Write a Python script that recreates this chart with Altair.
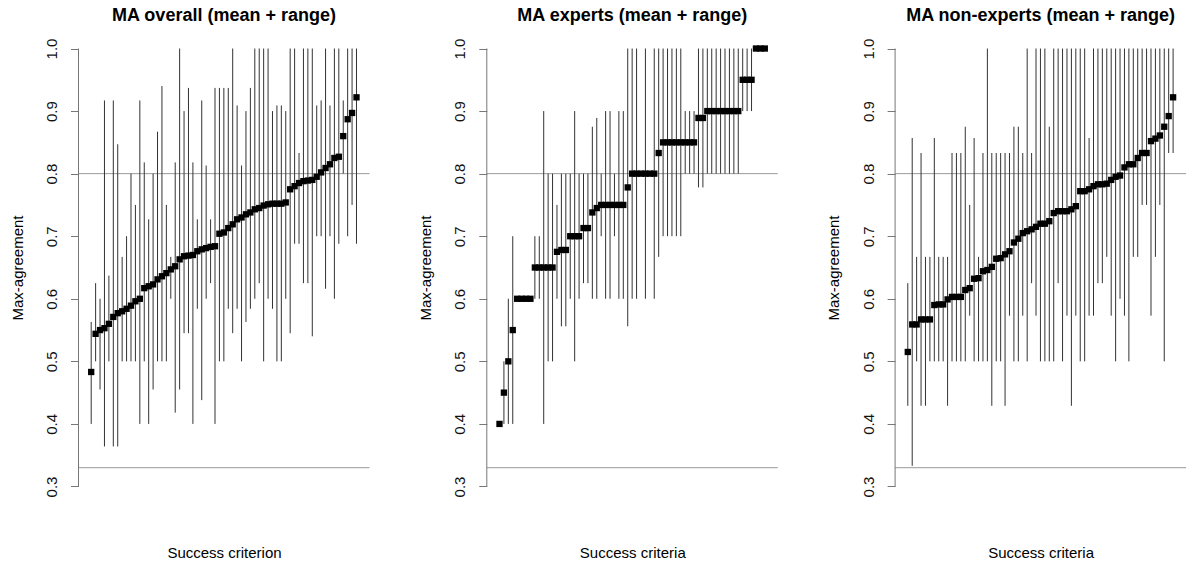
import altair as alt
import pandas as pd

FONT = "Liberation Sans"

tick_values = [0.3, 0.4, 0.5, 0.6, 0.7, 0.8, 0.9, 1.0]
ref_lines = [0.8, 0.33]
titles = ["MA overall (mean + range)", "MA experts (mean + range)", "MA non-experts (mean + range)"]
x_titles = ["Success criterion", "Success criteria", "Success criteria"]

overall_mean = [0.483, 0.544, 0.55, 0.553, 0.56, 0.571, 0.577, 0.58, 0.584, 0.589,
                0.596, 0.6, 0.617, 0.62, 0.623, 0.631, 0.636, 0.641, 0.647, 0.652,
                0.663, 0.668, 0.669, 0.67, 0.676, 0.679, 0.681, 0.683, 0.684, 0.704,
                0.706, 0.713, 0.719, 0.727, 0.73, 0.735, 0.738, 0.743, 0.745, 0.749,
                0.751, 0.752, 0.752, 0.752, 0.754, 0.775, 0.78, 0.785, 0.788, 0.789,
                0.79, 0.795, 0.802, 0.809, 0.815, 0.825, 0.827, 0.86, 0.887, 0.897, 0.922]
overall_min = [0.40, 0.50, 0.455, 0.364, 0.5, 0.364, 0.364, 0.5, 0.5, 0.5,
               0.5, 0.4, 0.5, 0.4, 0.455, 0.5, 0.5, 0.5, 0.6, 0.418,
               0.455, 0.545, 0.545, 0.4, 0.584, 0.438, 0.6, 0.625, 0.4, 0.5,
               0.5, 0.584, 0.545, 0.584, 0.5, 0.563, 0.584, 0.6, 0.625, 0.5,
               0.6, 0.584, 0.5, 0.5, 0.6, 0.545, 0.688, 0.688, 0.625, 0.625,
               0.54, 0.7, 0.7, 0.616, 0.7, 0.6, 0.688, 0.8, 0.7, 0.75, 0.688]
overall_max = [0.563, 0.625, 0.6, 0.917, 0.637, 0.917, 0.847, 0.667, 0.7, 0.8,
               0.75, 0.917, 0.818, 0.727, 0.8, 0.867, 0.94, 0.75, 0.667, 0.818,
               1.0, 0.9, 0.937, 0.818, 0.727, 0.917, 0.813, 0.727, 0.937, 0.937,
               0.937, 0.937, 1.0, 0.909, 0.813, 0.9, 0.937, 1.0, 1.0, 1.0,
               1.0, 0.9, 0.909, 0.909, 0.9, 1.0, 1.0, 0.833, 1.0, 1.0,
               1.0, 0.909, 0.917, 1.0, 0.909, 1.0, 1.0, 0.917, 1.0, 1.0, 1.0]

experts_mean = [0.40, 0.45, 0.50, 0.55, 0.6, 0.6, 0.6, 0.6, 0.65, 0.65,
                0.65, 0.65, 0.65, 0.675, 0.678, 0.678, 0.7, 0.7, 0.7, 0.713,
                0.713, 0.738, 0.745, 0.75, 0.75, 0.75, 0.75, 0.75, 0.75, 0.778,
                0.8, 0.8, 0.8, 0.8, 0.8, 0.8, 0.833, 0.85, 0.85, 0.85,
                0.85, 0.85, 0.85, 0.85, 0.85, 0.889, 0.889, 0.9, 0.9, 0.9,
                0.9, 0.9, 0.9, 0.9, 0.9, 0.95, 0.95, 0.95, 1.0, 1.0, 1.0]
experts_min = [0.4, 0.4, 0.4, 0.4, 0.6, 0.6, 0.6, 0.6, 0.6, 0.6,
               0.4, 0.5, 0.5, 0.6, 0.556, 0.556, 0.6, 0.5, 0.6, 0.625,
               0.625, 0.6, 0.6, 0.7, 0.6, 0.6, 0.7, 0.6, 0.6, 0.556,
               0.6, 0.6, 0.8, 0.6, 0.8, 0.6, 0.667, 0.7, 0.7, 0.7,
               0.7, 0.7, 0.8, 0.8, 0.8, 0.778, 0.778, 0.8, 0.8, 0.8,
               0.8, 0.8, 0.8, 0.8, 0.8, 0.9, 0.9, 0.9, 1.0, 1.0, 1.0]
experts_max = [0.4, 0.5, 0.6, 0.7, 0.6, 0.6, 0.6, 0.6, 0.7, 0.7,
               0.9, 0.8, 0.8, 0.75, 0.8, 0.8, 0.8, 0.9, 0.8, 0.8,
               0.8, 0.875, 0.889, 0.8, 0.9, 0.9, 0.8, 0.9, 0.9, 1.0,
               1.0, 1.0, 0.8, 1.0, 0.8, 1.0, 1.0, 1.0, 1.0, 1.0,
               1.0, 1.0, 0.9, 0.9, 0.9, 1.0, 1.0, 1.0, 1.0, 1.0,
               1.0, 1.0, 1.0, 1.0, 1.0, 1.0, 1.0, 1.0, 1.0, 1.0, 1.0]

nonexp_mean = [0.515, 0.559, 0.559, 0.567, 0.567, 0.567, 0.59, 0.591, 0.591, 0.599,
               0.603, 0.603, 0.603, 0.614, 0.617, 0.632, 0.633, 0.644, 0.646, 0.651,
               0.664, 0.665, 0.671, 0.676, 0.69, 0.696, 0.705, 0.708, 0.711, 0.715,
               0.72, 0.72, 0.724, 0.737, 0.74, 0.74, 0.74, 0.743, 0.748, 0.772,
               0.772, 0.775, 0.78, 0.783, 0.783, 0.784, 0.79, 0.795, 0.797, 0.81,
               0.815, 0.815, 0.825, 0.833, 0.833, 0.852, 0.856, 0.861, 0.875, 0.892, 0.922]
nonexp_min = [0.429, 0.333, 0.5, 0.429, 0.429, 0.5, 0.5, 0.5, 0.5, 0.429,
              0.5, 0.5, 0.5, 0.5, 0.573, 0.5, 0.5, 0.5, 0.5, 0.429,
              0.5, 0.5, 0.429, 0.573, 0.5, 0.5, 0.573, 0.5, 0.625, 0.573,
              0.5, 0.5, 0.5, 0.5, 0.625, 0.5, 0.573, 0.429, 0.573, 0.5,
              0.5, 0.573, 0.573, 0.625, 0.625, 0.667, 0.573, 0.5, 0.6, 0.573,
              0.5, 0.667, 0.667, 0.75, 0.75, 0.573, 0.667, 0.75, 0.5, 0.833, 0.833]
nonexp_max = [0.625, 0.857, 0.667, 0.833, 0.667, 0.667, 0.857, 0.667, 0.667, 0.667,
              0.833, 0.833, 0.833, 0.875, 0.75, 0.857, 0.667, 0.833, 1.0, 0.833,
              0.833, 0.833, 0.833, 0.833, 0.875, 0.875, 0.833, 1.0, 0.833, 1.0,
              1.0, 1.0, 0.875, 1.0, 1.0, 1.0, 1.0, 1.0, 1.0, 1.0,
              1.0, 0.857, 1.0, 1.0, 1.0, 1.0, 1.0, 1.0, 1.0, 1.0,
              1.0, 1.0, 1.0, 1.0, 1.0, 1.0, 1.0, 1.0, 1.0, 1.0, 1.0]

yscale = alt.Scale(domain=[0.272, 1.028], nice=False, zero=False)
xscale = alt.Scale(domain=[-1.87, 63.94], nice=False, zero=False)


def panel(title, xtitle, mean, lo, hi):
    n = len(mean)
    df = pd.DataFrame({"idx": list(range(1, n + 1)), "mean": mean, "lo": lo, "hi": hi})
    refs = pd.DataFrame({"v": ref_lines})
    axdf = pd.DataFrame({"a": [tick_values[0]], "b": [tick_values[-1]]})

    xaxis = alt.Axis(title=xtitle, labels=False, ticks=False, domain=False, grid=False,
                     titleFontSize=15, titleFont=FONT, titleFontWeight="normal",
                     titleColor="black", titleBaseline="alphabetic", titleY=53)
    yaxis = alt.Axis(title="Max-agreement", values=tick_values, format=".1f", grid=False,
                     domain=False, tickSize=8, tickColor="#777", labelAngle=270,
                     labelAlign="center", labelBaseline="alphabetic", labelPadding=14,
                     labelFontSize=15, labelFont=FONT, labelColor="#111",
                     titleFontSize=15, titleFont=FONT, titleFontWeight="normal",
                     titleColor="black", titleX=-56.5, titleBaseline="alphabetic",
                     titleAngle=270)

    hl = alt.Chart(refs).mark_rule(color="#999", strokeWidth=1).encode(
        y=alt.Y("v:Q", scale=yscale, axis=yaxis))
    axline = alt.Chart(axdf).mark_rule(color="#777", strokeWidth=1).encode(
        x=alt.value(0), y=alt.Y("a:Q", scale=yscale, axis=yaxis), y2="b:Q")
    rng = alt.Chart(df).mark_rule(color="#333", strokeWidth=1).encode(
        x=alt.X("idx:Q", scale=xscale, axis=xaxis),
        y=alt.Y("lo:Q", scale=yscale, axis=yaxis), y2="hi:Q")
    pts = alt.Chart(df).mark_square(size=40, color="black", opacity=1).encode(
        x=alt.X("idx:Q", scale=xscale, axis=xaxis),
        y=alt.Y("mean:Q", scale=yscale, axis=yaxis))
    return alt.layer(hl, axline, rng, pts).properties(
        width=291, height=473,
        title=alt.TitleParams(text=title, fontSize=18, fontWeight="bold", font=FONT,
                              color="black", anchor="middle", baseline="alphabetic",
                              offset=-8))


p1 = panel(titles[0], x_titles[0], overall_mean, overall_min, overall_max)
p2 = panel(titles[1], x_titles[1], experts_mean, experts_min, experts_max)
p3 = panel(titles[2], x_titles[2], nonexp_mean, nonexp_min, nonexp_max)

chart = alt.hconcat(p1, p2, p3, spacing=117.3, bounds="flush").properties(
    padding={"left": 9.5, "top": 7, "right": 0, "bottom": 0},
    background="white",
).configure_view(stroke=None)

chart.save("out.html", embed_options={"renderer": "svg", "actions": False})
